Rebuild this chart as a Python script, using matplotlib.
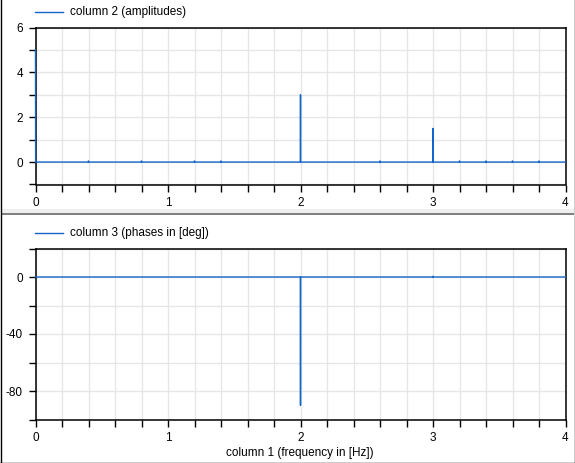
"""Amplitude / phase spectrum, two stacked panels."""
import matplotlib
matplotlib.use("Agg")
import matplotlib.pyplot as plt
from matplotlib.lines import Line2D
from matplotlib.patches import Rectangle
from matplotlib.ticker import FuncFormatter

plt.rcParams["font.family"] = ["Liberation Sans", "DejaVu Sans"]
plt.rcParams["font.size"] = 8

# spectrum samples (frequency in Hz)
freq = [0.0, 0.001, 0.399, 0.4, 0.401, 0.799, 0.8, 0.801, 1.199, 1.2, 1.201,
        1.399, 1.4, 1.401, 1.999, 2.0, 2.001, 2.599, 2.6, 2.601, 2.999, 3.0,
        3.001, 3.199, 3.2, 3.201, 3.399, 3.4, 3.401, 3.599, 3.6, 3.601,
        3.799, 3.8, 3.801, 4.0]
amplitude = [5.0, 0.0, 0.0, 0.05, 0.0, 0.0, 0.05, 0.0, 0.0, 0.05, 0.0,
             0.0, 0.05, 0.0, 0.0, 3.0, 0.0, 0.0, 0.05, 0.0, 0.0, 1.5,
             0.0, 0.0, 0.05, 0.0, 0.0, 0.05, 0.0, 0.0, 0.05, 0.0,
             0.0, 0.05, 0.0, 0.0]
phase = [0.0, 0.0, 0.0, 0.0, 0.0, 0.0, 0.0, 0.0, 0.0, 0.0, 0.0,
         0.0, 0.0, 0.0, 0.0, -90.0, 0.0, 0.0, 0.0, 0.0, 0.0, 0.5,
         0.0, 0.0, 0.0, 0.0, 0.0, 0.0, 0.0, 0.0, 0.0, 0.0,
         0.0, 0.0, 0.0, 0.0]

labels = ["column 2 (amplitudes)", "column 3 (phases in [deg])"]
xlabel = "column 1 (frequency in [Hz])"

W, H = 575, 463
blue = "#1565c8"
grid_c = "#e6e6e6"


def fx(px):
    return px / W


def fy(py):
    return 1 - py / H


def style(ax, yticks, ylabels):
    ax.set_xlim(0, 4)
    ax.set_xticks([i * 0.2 for i in range(21)])
    ax.xaxis.set_major_formatter(
        FuncFormatter(lambda v, p: f"{v:.0f}" if abs(v - round(v)) < 1e-6 else ""))
    ax.set_yticks(yticks)
    ax.set_yticklabels(ylabels)
    ax.grid(True, color=grid_c, linewidth=1)
    ax.set_axisbelow(True)
    ax.tick_params(direction="out", length=5, width=1, pad=4, colors="black",
                   labelsize=8.5)
    ax.tick_params(top=False, right=False)
    for s in ax.spines.values():
        s.set_linewidth(1.1)
        s.set_zorder(2)


fig = plt.figure(figsize=(W / 100, H / 100), dpi=100)

ax1 = fig.add_axes([fx(35.5), fy(184.5), fx(530), (184.5 - 27.5) / H])
ax1.plot(freq, amplitude, color=blue, linewidth=1.0, zorder=5, clip_on=False)
ax1.set_ylim(-1, 6)
style(ax1, list(range(-1, 7)), ["", "0", "", "2", "", "4", "", "6"])

ax2 = fig.add_axes([fx(35.5), fy(419.5), fx(530), (419.5 - 248.5) / H])
ax2.plot(freq, phase, color=blue, linewidth=1.0, zorder=5, clip_on=False)
ax2.set_ylim(-100, 20)
style(ax2, list(range(-100, 21, 20)), ["", "-80", "", "-40", "", "0", ""])
fig.text(fx(300), fy(453), xlabel, ha="center", va="center", fontsize=8.5)

# legends
for y, lab in [(12, labels[0]), (233, labels[1])]:
    fig.add_artist(Line2D([fx(35), fx(63)], [fy(y), fy(y)], color=blue, linewidth=1))
    fig.text(fx(70), fy(y), lab, ha="left", va="center", fontsize=8.5)

# panel separator
fig.add_artist(Rectangle((fx(1), fy(213)), fx(573), 4 / H, color="#efefef", lw=0))
fig.add_artist(Rectangle((fx(1), fy(215)), fx(573), 2 / H, color="#808080", lw=0))

# outer frame
for xs, ys in [([0.5, 0.5], [0, H]), ([W - 0.5, W - 0.5], [0, H]), ([0, W], [H - 0.5, H - 0.5])]:
    fig.add_artist(Line2D([fx(x) for x in xs], [fy(y) for y in ys], color="black", linewidth=1))

fig.savefig("out.png", dpi=100)
plt.close(fig)
